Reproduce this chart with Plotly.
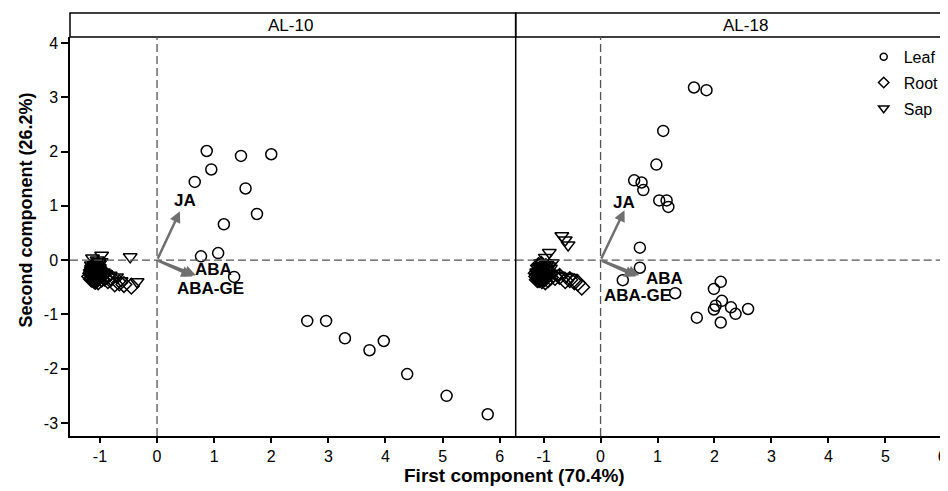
import plotly.graph_objects as go

# ---------------- data ----------------
# AL-10 panel
al10_leaf_x = [0.87, 1.47, 2.00, 0.95, 0.66, 1.55, 1.75, 1.17, 1.07, 0.77, 1.35,
               2.63, 2.96, 3.29, 3.97, 3.72, 4.38, 5.07, 5.79]
al10_leaf_y = [2.01, 1.92, 1.95, 1.67, 1.44, 1.32, 0.85, 0.66, 0.13, 0.07, -0.31,
               -1.12, -1.12, -1.44, -1.49, -1.66, -2.10, -2.50, -2.84]
al10_root_x = [-1.15, -1.12, -1.10, -1.08, -1.05, -1.13, -1.09, -1.04, -1.00, -0.97, -0.92,
               -0.86, -0.80, -0.74, -0.66, -0.58, -0.45, -1.11, -1.07, -1.02, -0.95, -0.88,
               -1.14, -1.06, -1.01, -1.16, -1.10, -1.03, -1.12, -1.08, -1.05, -1.14, -1.18,
               -1.11, -1.07, -1.09, -1.13, -1.06, -1.02, -1.15, -1.10, -1.04, -1.08]
al10_root_y = [-0.18, -0.25, -0.30, -0.22, -0.28, -0.33, -0.36, -0.32, -0.30, -0.35, -0.33,
               -0.38, -0.33, -0.44, -0.42, -0.45, -0.48, -0.14, -0.20, -0.24, -0.27, -0.29,
               -0.28, -0.16, -0.19, -0.24, -0.38, -0.40, -0.10, -0.12, -0.35, -0.21, -0.30,
               -0.27, -0.22, -0.17, -0.13, -0.31, -0.26, -0.35, -0.25, -0.14, -0.39]
al10_sap_x = [-0.97, -1.05, -1.10, -1.14, -1.08, -1.02, -1.12, -1.06, -1.00, -0.94, -0.90,
              -0.82, -0.71, -0.63, -0.47, -0.35, -1.16, -1.09, -1.03, -0.98, -1.13, -1.07,
              -1.11, -1.04, -1.15, -1.09, -1.01, -1.06, -1.12, -1.08, -1.14, -1.03, -1.10]
al10_sap_y = [0.09, 0.00, -0.08, -0.15, -0.12, -0.05, -0.22, -0.26, -0.18, -0.22, -0.25,
              -0.28, -0.31, -0.38, 0.06, -0.40, -0.30, -0.32, -0.12, -0.03, 0.04, -0.20,
              -0.17, -0.23, -0.09, -0.29, -0.14, -0.07, -0.26, -0.19, -0.23, -0.30, -0.11]

# AL-18 panel
al18_leaf_x = [1.64, 1.86, 1.10, 0.98, 0.59, 0.72, 0.75, 1.03, 1.16, 1.19, 0.69, 0.69,
               0.39, 1.31, 2.11, 1.99, 2.13, 2.02, 1.99, 2.29, 2.37, 2.59, 1.69, 2.11]
al18_leaf_y = [3.18, 3.13, 2.38, 1.76, 1.47, 1.43, 1.29, 1.10, 1.10, 0.98, 0.23, -0.14,
               -0.37, -0.61, -0.40, -0.53, -0.75, -0.84, -0.91, -0.87, -0.99, -0.90, -1.06, -1.15]
al18_root_x = [-1.10, -1.06, -1.02, -0.98, -0.94, -1.08, -1.03, -0.97, -0.92, -0.88, -0.80,
               -0.72, -0.62, -0.54, -0.46, -0.40, -0.33, -1.12, -1.00, -0.90, -1.05, -0.95,
               -1.09, -1.01, -1.13, -1.07, -1.04, -0.99, -1.11, -0.96, -1.06, -1.02, -0.93,
               -1.10, -0.98, -1.04]
al18_root_y = [-0.20, -0.26, -0.30, -0.34, -0.28, -0.36, -0.38, -0.40, -0.36, -0.32, -0.32,
               -0.30, -0.38, -0.36, -0.40, -0.42, -0.50, -0.30, -0.22, -0.25, -0.15, -0.18,
               -0.10, -0.12, -0.24, -0.33, -0.21, -0.27, -0.36, -0.12, -0.18, -0.34, -0.21,
               -0.26, -0.30, -0.08]
al18_sap_x = [-0.68, -0.62, -0.57, -0.90, -0.97, -1.05, -1.10, -1.00, -0.95, -0.88, -0.82,
              -0.74, -0.60, -0.52, -1.08, -1.03, -0.93, -0.85, -1.12, -0.99, -1.06, -1.02,
              -0.94, -1.09, -1.04, -0.97, -1.07, -0.91]
al18_sap_y = [0.45, 0.37, 0.28, 0.14, 0.05, -0.05, -0.15, -0.10, -0.18, -0.15, -0.24,
              -0.28, -0.30, -0.32, -0.28, -0.22, -0.28, -0.05, -0.22, -0.30, -0.12, -0.20,
              -0.08, -0.34, -0.27, -0.24, -0.19, -0.11]

# loading vectors (tip coordinates) and label positions
vec_names = ["JA", "ABA", "ABA-GE"]
al10_vec_x = [0.40, 0.68, 0.62]
al10_vec_y = [0.90, -0.28, -0.30]
al10_lab_x = [0.49, 0.98, 0.93]
al10_lab_y = [1.10, -0.17, -0.53]
al18_vec_x = [0.42, 0.68, 0.62]
al18_vec_y = [0.92, -0.28, -0.30]
al18_lab_x = [0.42, 1.12, 0.65]
al18_lab_y = [1.07, -0.33, -0.66]

panels = ["AL-10", "AL-18"]
groups = ["Leaf", "Root", "Sap"]
x_ticks = [-1, 0, 1, 2, 3, 4, 5, 6]
x_tick_text = ["-1", "0", "1", "2", "3", "4", "5", "6"]
y_ticks = [-3, -2, -1, 0, 1, 2, 3, 4]
y_tick_text = ["-3", "-2", "-1", "0", "1", "2", "3", "4"]

# ---------------- figure ----------------
FONT = "Liberation Sans, Arial, sans-serif"
symbols = {"Leaf": "circle-open", "Root": "diamond-open", "Sap": "triangle-down-open"}
sizes = {"Leaf": 11, "Root": 12, "Sap": 12}
leg_sizes = {"Leaf": 7, "Root": 8, "Sap": 9}

fig = go.Figure()

data = {
    ("x", "Leaf"): (al10_leaf_x, al10_leaf_y),
    ("x", "Root"): (al10_root_x, al10_root_y),
    ("x", "Sap"): (al10_sap_x, al10_sap_y),
    ("x2", "Leaf"): (al18_leaf_x, al18_leaf_y),
    ("x2", "Root"): (al18_root_x, al18_root_y),
    ("x2", "Sap"): (al18_sap_x, al18_sap_y),
}
for (xa, g), (xs, ys) in data.items():
    fig.add_trace(go.Scatter(
        x=xs, y=ys, mode="markers", xaxis=xa, yaxis="y", showlegend=False,
        marker=dict(symbol=symbols[g], size=sizes[g], color="black",
                    line=dict(width=1.5, color="black")),
        hoverinfo="x+y"))

for g in groups:
    fig.add_trace(go.Scatter(
        x=[None], y=[None], mode="markers", name=g, xaxis="x2", yaxis="y",
        legendgroup=g,
        marker=dict(symbol=symbols[g], size=leg_sizes[g], color="black",
                    line=dict(width=1.5, color="black"))))

# the page body has an 8px margin, so the figure is sized/offset to compensate
W, H = 940, 483
ML, MT, MB = 62, 29, 55
PW = W - ML
PH = H - MT - MB
split = (507.7 - ML) / PW
strip_top = 1 + 24 / PH

axis_common = dict(showgrid=False, zeroline=False, showline=True, linecolor="black",
                   linewidth=1.5, ticks="outside", ticklen=5, tickwidth=1.5,
                   tickcolor="black", tickvals=x_ticks, ticktext=x_tick_text,
                   automargin=False, ticklabeloverflow="allow",
                   tickfont=dict(family=FONT, size=16, color="black"))

fig.update_layout(
    template="none",
    width=W, height=H,
    margin=dict(l=ML, r=0, t=MT, b=MB, pad=0, autoexpand=False),
    paper_bgcolor="white", plot_bgcolor="white",
    xaxis=dict(domain=[0, split], range=[-1.524, 6.28], anchor="y", **axis_common),
    xaxis2=dict(domain=[split, 1], range=[-1.49, 6.1], anchor="y", **axis_common),
    yaxis=dict(range=[-3.24, 4.11], domain=[0, 1], anchor="x", showgrid=False,
               zeroline=False, showline=True, linecolor="black", linewidth=1.5,
               ticks="outside", ticklen=7, tickwidth=1.5, tickcolor="black", automargin=False,
               tickvals=y_ticks, ticktext=y_tick_text,
               tickfont=dict(family=FONT, size=16, color="black")),
    legend=dict(x=0.904, y=0.993, xanchor="left", yanchor="top",
                font=dict(family=FONT, size=16, color="black"),
                bgcolor="rgba(0,0,0,0)", borderwidth=0, tracegroupgap=2,
                traceorder="grouped"),
    font=dict(family=FONT, color="black"),
)

shapes = []
# dashed reference lines
for xa in ["x", "x2"]:
    shapes.append(dict(type="line", xref=xa + " domain", yref="y", x0=0, x1=1, y0=0, y1=0,
                       line=dict(color="#555555", width=1.3, dash="8px,4px")))
    shapes.append(dict(type="line", xref=xa, yref="y domain", x0=0, x1=0, y0=0, y1=1,
                       line=dict(color="#555555", width=1.3, dash="8px,4px")))
# strips
shapes.append(dict(type="rect", xref="paper", yref="paper", x0=0, x1=split, y0=1, y1=strip_top,
                   line=dict(color="black", width=1.5), fillcolor="white", layer="below"))
shapes.append(dict(type="rect", xref="paper", yref="paper", x0=split, x1=1.03, y0=1, y1=strip_top,
                   line=dict(color="black", width=1.5), fillcolor="white", layer="below"))
# panel separator
shapes.append(dict(type="line", xref="paper", yref="paper", x0=split, x1=split, y0=0, y1=strip_top,
                   line=dict(color="black", width=1.5)))
fig.update_layout(shapes=shapes)

annotations = []
strip_centers = [split / 2 - 0.003, (split + 1.03) / 2]
for name, cx in zip(panels, strip_centers):
    annotations.append(dict(text=name, xref="paper", yref="paper", x=cx, y=(1 + strip_top) / 2,
                            showarrow=False, xanchor="center", yanchor="middle",
                            font=dict(family=FONT, size=17, color="black")))

vec_sets = [("x", al10_vec_x, al10_vec_y, al10_lab_x, al10_lab_y),
            ("x2", al18_vec_x, al18_vec_y, al18_lab_x, al18_lab_y)]
for xa, vx, vy, lx, ly in vec_sets:
    for n, tx, ty, px, py in zip(vec_names, vx, vy, lx, ly):
        annotations.append(dict(x=tx, y=ty, ax=0, ay=0, xref=xa, yref="y", axref=xa, ayref="y",
                                text="", showarrow=True, arrowhead=2, arrowsize=0.9,
                                arrowwidth=2.5, arrowcolor="#6f6f6f"))
        annotations.append(dict(x=px, y=py, xref=xa, yref="y", text="<b>%s</b>" % n,
                                showarrow=False, xanchor="center", yanchor="middle",
                                font=dict(family=FONT, size=17, color="black")))

annotations.append(dict(text="<b>First component (70.4%)</b>", xref="paper", yref="paper",
                        x=(506.5 - ML) / PW, y=-39 / PH, showarrow=False, xanchor="center",
                        yanchor="middle", font=dict(family=FONT, size=19, color="black")))
annotations.append(dict(text="<b>Second component (26.2%)</b>", xref="paper", yref="paper",
                        x=(17 - ML) / PW, y=(428 - 202.5) / PH, showarrow=False, xanchor="center",
                        yanchor="middle", textangle=-90,
                        font=dict(family=FONT, size=18, color="black")))
fig.update_layout(annotations=annotations)

fig.write_html("out.html")
